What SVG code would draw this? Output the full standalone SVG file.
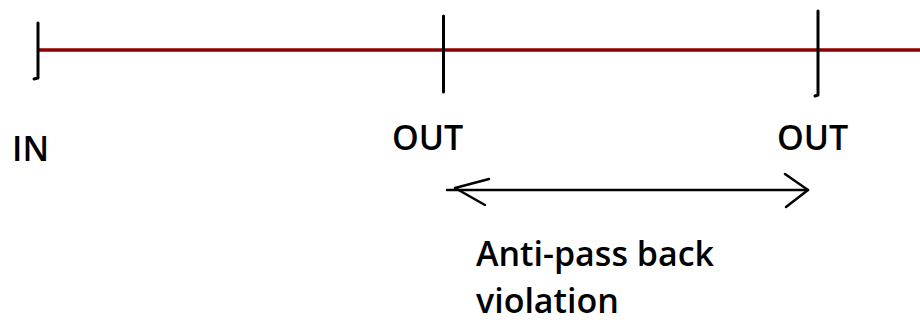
<svg xmlns="http://www.w3.org/2000/svg" width="920" height="323" viewBox="0 0 920 323">
<style>
.tick{stroke:#000;stroke-width:3;fill:none;stroke-linecap:round;stroke-linejoin:round}
.arr{stroke:#000;stroke-width:2.5;fill:none;stroke-linecap:round;stroke-linejoin:round}
.lbl{font-family:"Open Sans","Liberation Sans",sans-serif;font-weight:600;font-size:34px;fill:#000}
</style>
<rect width="920" height="323" fill="#fff"/>
<g id="connectors">
<line x1="39" y1="50" x2="920" y2="50" stroke="#8b0000" stroke-width="3.5"/>
<g id="span-arrow">
<line class="arr" x1="447" y1="190" x2="808" y2="190"/>
<polyline class="arr" points="489,179 455,188 485,205"/>
<polyline class="arr" points="785,174 808,190 786,207"/>
</g>
</g>
<g id="node-in">
<polyline class="tick" points="38,23 38,78 34,79"/>
<text class="lbl" x="12" y="161">IN</text>
</g>
<g id="node-out1">
<line class="tick" x1="443.5" y1="16" x2="443.5" y2="92"/>
<text class="lbl" x="392" y="150">OUT</text>
</g>
<g id="node-out2">
<polyline class="tick" points="818,11 818,95 815,96"/>
<text class="lbl" x="777" y="150">OUT</text>
</g>
<g id="label-violation">
<text class="lbl" x="476" y="266">Anti-pass back</text>
<text class="lbl" x="476" y="313">violation</text>
</g>
</svg>
